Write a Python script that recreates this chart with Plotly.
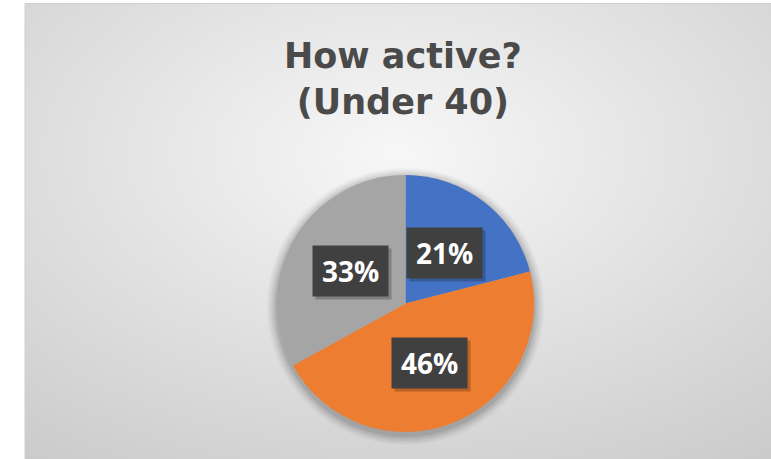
import math
import base64
import plotly.graph_objects as go

# ---- data ----
categories = ["Low", "Moderate", "High"]
values = [21, 46, 33]
colors = ["#4472C4", "#ED7D31", "#A5A5A5"]
title_lines = ["How active?", "(Under 40)"]

W, H = 771, 459
# chart area (px)
AX0, AY0 = 25, 3.5
# pie geometry (px)
PCX, PCY, PR = 405.5, 303.5, 128.5

def px(x):
    return x / W

def py(y):
    return 1 - y / H

# background: radial gradient via SVG data URI
bw, bh = W - AX0, H - AY0
svg = f'''<svg xmlns="http://www.w3.org/2000/svg" width="{bw}" height="{bh}" viewBox="0 0 {bw} {bh}" preserveAspectRatio="none">
<defs><radialGradient id="g" cx="0.5" cy="0.33" r="1" fx="0.5" fy="0.33">
<stop offset="0" stop-color="#f7f7f7"/><stop offset="1" stop-color="#c2c2c2"/></radialGradient></defs>
<rect x="0" y="0" width="{bw}" height="{bh}" fill="url(#g)"/></svg>'''
src = "data:image/svg+xml;base64," + base64.b64encode(svg.encode()).decode()

fig = go.Figure()
fig.add_trace(go.Pie(
    labels=categories, values=values, sort=False, direction="clockwise", rotation=0,
    marker=dict(colors=colors, line=dict(width=0)),
    textinfo="none", hoverinfo="label+percent", showlegend=False,
    domain=dict(x=[px(PCX - PR), px(PCX + PR)], y=[py(PCY + PR), py(PCY - PR)]),
))

shapes = []
# pie soft shadow
for grow, op in [(10, 0.03), (8, 0.04), (6, 0.05), (4, 0.06), (2, 0.08)]:
    r = PR + grow
    cy = PCY + 3
    shapes.append(dict(type="circle", xref="paper", yref="paper", layer="below",
                       x0=px(PCX - r), x1=px(PCX + r), y0=py(cy + r), y1=py(cy - r),
                       fillcolor=f"rgba(0,0,0,{op})", line=dict(width=0)))
# chart border
shapes.append(dict(type="rect", xref="paper", yref="paper", layer="above",
                   x0=px(AX0), x1=px(W + 2), y0=py(H + 2), y1=py(AY0),
                   fillcolor="rgba(0,0,0,0)", line=dict(color="#cfcfcf", width=1)))

annotations = []
total = sum(values)
cum = 0
for v in values:
    mid = (cum + v / 2) / total * 2 * math.pi
    cum += v
    lx = PCX + 0.5 * PR * math.sin(mid)
    ly = PCY - 0.5 * PR * math.cos(mid)
    pct = f"{round(v / total * 100)}%"
    annotations.append(dict(x=px(lx), y=py(ly), xref="paper", yref="paper", text="",
                            xanchor="center", yanchor="middle",
                            showarrow=False, width=73, height=48, bgcolor="rgba(0,0,0,0.22)",
                            xshift=3, yshift=-3))
    annotations.append(dict(x=px(lx), y=py(ly), xref="paper", yref="paper",
                            xanchor="center", yanchor="middle",
                            text=f"<b>{pct}</b>", showarrow=False, width=73, height=48,
                            bgcolor="#404040", valign="middle",
                            font=dict(family="Open Sans", size=28, color="white")))

annotations.append(dict(x=px(403), y=py(79), xref="paper", yref="paper",
                        text="<br>".join(f"<b>{t}</b>" for t in title_lines),
                        showarrow=False, xanchor="center", yanchor="middle", align="center",
                        font=dict(family="DejaVu Sans", size=35, color="#4a4a4a")))

fig.update_layout(
    width=W, height=H, margin=dict(l=0, r=0, t=0, b=0),
    paper_bgcolor="white", plot_bgcolor="white",
    images=[dict(source=src, xref="paper", yref="paper", x=px(AX0), y=py(AY0),
                 sizex=px(bw), sizey=bh / H, xanchor="left", yanchor="top",
                 sizing="stretch", layer="below")],
    shapes=shapes, annotations=annotations,
)
fig.write_html("out.html", config={"displayModeBar": False},
               post_script="document.body.style.margin='0';document.body.style.overflow='hidden';")
